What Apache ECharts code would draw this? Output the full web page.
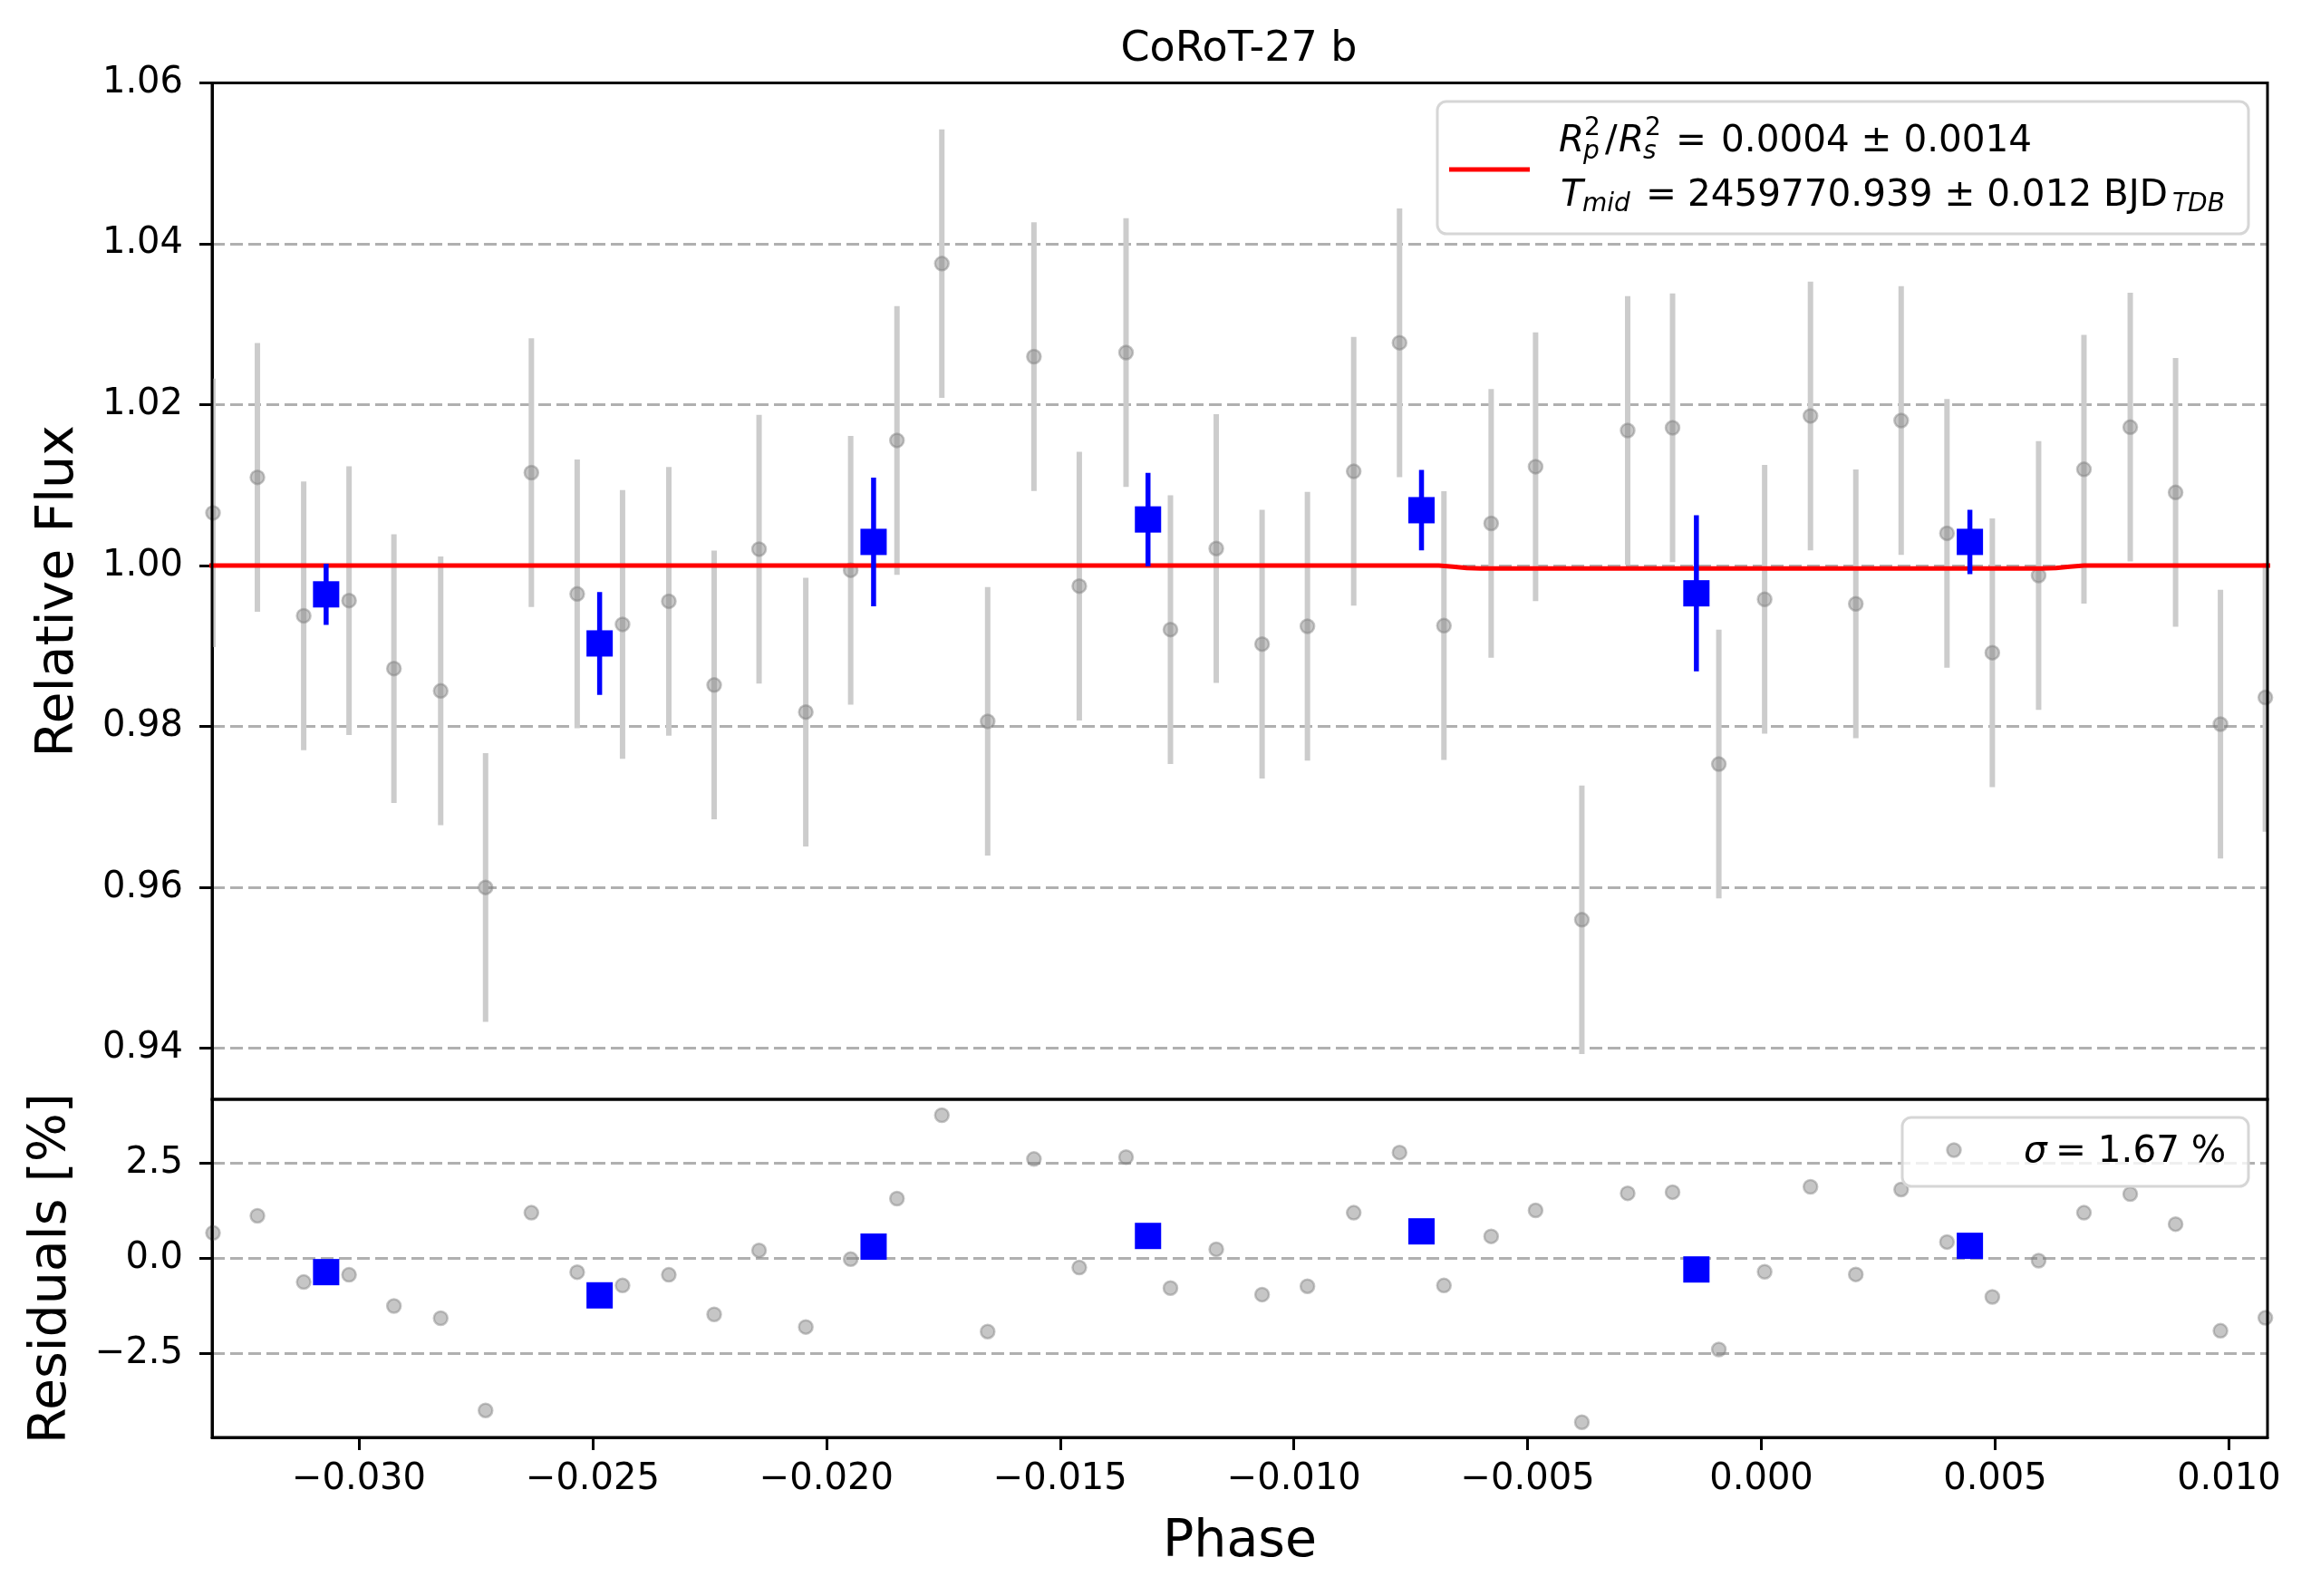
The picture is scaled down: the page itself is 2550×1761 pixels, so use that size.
<!DOCTYPE html>
<html>
<head>
<meta charset="utf-8">
<title>CoRoT-27 b</title>
<script src="https://cdn.jsdelivr.net/npm/echarts@6/dist/echarts.min.js"></script>
<style>
  html, body { margin: 0; padding: 0; background: #fff; }
  #chart { width: 2550px; height: 1761px; }
</style>
</head>
<body>
<div id="chart"></div>
<script>
// unbinned points (phase, relative flux, residual in %)
const phase = [-0.03312, -0.03217, -0.03118, -0.03021, -0.02925, -0.02825, -0.02729, -0.02631,
  -0.02533, -0.02436, -0.02337, -0.02240, -0.02144, -0.02044, -0.01948, -0.01849, -0.01753,
  -0.01655, -0.01556, -0.01459, -0.01359, -0.01264, -0.01166, -0.01068, -0.00971, -0.00872,
  -0.00774, -0.00679, -0.00578, -0.00483, -0.00384, -0.00286, -0.00190, -0.00091, 0.00007,
  0.00105, 0.00202, 0.00299, 0.00397, 0.00494, 0.00593, 0.00690, 0.00789, 0.00886, 0.00982, 0.01078];
const flux = [1.00656, 1.01098, 0.99377, 0.99566, 0.98721, 0.98443, 0.96000, 1.01156,
  0.99648, 0.99270, 0.99557, 0.98516, 1.00205, 0.98180, 0.99943, 1.01557, 1.03754,
  0.98065, 1.02598, 0.99746, 1.02648, 0.99205, 1.00213, 0.99025, 0.99246, 1.01172,
  1.02771, 0.99254, 1.00525, 1.01230, 0.95598, 1.01680, 1.01713, 0.97533, 0.99582,
  1.01861, 0.99525, 1.01803, 1.00402, 0.98918, 0.99877, 1.01197, 1.01721, 1.00910, 0.98030, 0.98361];
const fluxErr = 0.0167;
const resid = [0.67, 1.12, -0.62, -0.43, -1.25, -1.57, -3.99, 1.20,
  -0.36, -0.71, -0.43, -1.47, 0.21, -1.80, -0.02, 1.57, 3.76,
  -1.92, 2.61, -0.24, 2.66, -0.78, 0.24, -0.95, -0.73, 1.20,
  2.78, -0.71, 0.58, 1.26, -4.30, 1.71, 1.74, -2.39, -0.35,
  1.88, -0.42, 1.81, 0.43, -1.01, -0.06, 1.20, 1.69, 0.90, -1.90, -1.56];

// binned points
const binPhase = [-0.03070, -0.02485, -0.01899, -0.01312, -0.00727, -0.00139, 0.00446];
const binFlux = [0.99643, 0.99033, 1.00295, 1.00574, 1.00689, 0.99656, 1.00295];
const binErr = [0.0038, 0.0064, 0.0080, 0.0058, 0.0050, 0.0097, 0.0040];
const binResid = [-0.36, -0.97, 0.31, 0.59, 0.71, -0.29, 0.33];

// transit model
const modelPhase = [-0.0332, -0.0069, -0.0066, -0.0063, -0.0060, 0.0060, 0.0063, 0.0066, 0.0069, 0.0109];
const modelFlux = [1.0, 1.0, 0.99988, 0.99970, 0.99965, 0.99965, 0.99970, 0.99988, 1.0, 1.0];

// axes
const phaseTicks = [-0.030, -0.025, -0.020, -0.015, -0.010, -0.005, 0.000, 0.005, 0.010];
const fluxTicks = [0.94, 0.96, 0.98, 1.00, 1.02, 1.04, 1.06];
const residTicks = [-2.5, 0.0, 2.5];
const phaseMin = -0.03314, phaseMax = 0.010826;
const fluxMin = 0.93366, fluxMax = 1.06;
const residMin = -4.699, residMax = 4.176;

const FONT = 'DejaVu Sans';
const minus = (v, d) => (v < 0 ? '\u2212' : '') + Math.abs(v).toFixed(d);

const chart = echarts.init(document.getElementById('chart'), null, { renderer: 'canvas' });

function errorBars(color, width) {
  return function (params, api) {
    const hi = api.coord([api.value(0), api.value(2)]);
    const lo = api.coord([api.value(0), api.value(1)]);
    return {
      type: 'line',
      shape: { x1: hi[0], y1: hi[1], x2: lo[0], y2: lo[1] },
      style: { stroke: color, lineWidth: width }
    };
  };
}

const tickStyle = { color: '#000', width: 3 };
const gridLine = { show: true, lineStyle: { color: '#b0b0b0', width: 3, type: [14, 6] } };
const labelStyle = { fontFamily: FONT, fontSize: 40, color: '#000' };
const grayDot = { color: 'rgba(128,128,128,0.45)', borderColor: 'rgba(128,128,128,0.45)', borderWidth: 2.5, opacity: 1 };
const blueSq = { color: '#0000ff', opacity: 1 };

// legend text pieces (layout only)
function txt(x, y, s, size, italic, align) {
  return {
    type: 'text', x: x, y: y, z: 100,
    style: {
      text: s, fontFamily: FONT, fontSize: size, fontStyle: italic ? 'italic' : 'normal',
      fill: '#000', align: align || 'left', verticalAlign: 'middle'
    }
  };
}

const option = {
  backgroundColor: '#ffffff',
  animation: false,
  title: {
    text: 'CoRoT-27 b', left: 1367, top: 32, textAlign: 'center', padding: 0,
    textStyle: { fontFamily: FONT, fontSize: 46, fontWeight: 'normal', color: '#000' }
  },
  grid: [
    { left: 234, top: 91.5, width: 2268, height: 1121.5, show: true, z: 10, borderColor: '#000', borderWidth: 3 },
    { left: 234, top: 1213, width: 2268, height: 373, show: true, z: 10, borderColor: '#000', borderWidth: 3 }
  ],
  xAxis: [
    {
      gridIndex: 0, type: 'value', min: phaseMin, max: phaseMax,
      axisLine: { show: false, onZero: false }, axisTick: { show: false },
      axisLabel: { show: false }, splitLine: { show: false }
    },
    {
      gridIndex: 1, type: 'value', min: phaseMin, max: phaseMax,
      axisLine: { onZero: false, lineStyle: tickStyle },
      axisTick: { length: 14, lineStyle: tickStyle, customValues: phaseTicks },
      axisLabel: Object.assign({ customValues: phaseTicks, margin: 27, formatter: v => minus(v, 3) }, labelStyle),
      splitLine: { show: false },
      name: 'Phase', nameLocation: 'middle', nameGap: 88,
      nameTextStyle: { fontFamily: FONT, fontSize: 57, color: '#000' }
    }
  ],
  yAxis: [
    {
      gridIndex: 0, type: 'value', min: fluxMin, max: fluxMax,
      axisLine: { onZero: false, lineStyle: tickStyle },
      axisTick: { length: 14, lineStyle: tickStyle, customValues: fluxTicks },
      axisLabel: Object.assign({ customValues: fluxTicks, margin: 32, formatter: v => v.toFixed(2) }, labelStyle),
      splitLine: gridLine,
      name: 'Relative Flux', nameLocation: 'middle', nameGap: 140,
      nameTextStyle: { fontFamily: FONT, fontSize: 57, color: '#000' }
    },
    {
      gridIndex: 1, type: 'value', min: residMin, max: residMax,
      axisLine: { onZero: false, lineStyle: tickStyle },
      axisTick: { length: 14, lineStyle: tickStyle, customValues: residTicks },
      axisLabel: Object.assign({ customValues: residTicks, margin: 32, formatter: v => minus(v, 1) }, labelStyle),
      splitLine: gridLine,
      name: 'Residuals [%]', nameLocation: 'middle', nameGap: 148,
      nameTextStyle: { fontFamily: FONT, fontSize: 57, color: '#000' }
    }
  ],
  series: [
    {
      type: 'custom', xAxisIndex: 0, yAxisIndex: 0, z: 2, clip: true,
      renderItem: errorBars('#cccccc', 6),
      encode: { x: 0, y: [1, 2] },
      data: phase.map((p, i) => [p, flux[i] - fluxErr, flux[i] + fluxErr])
    },
    {
      type: 'scatter', xAxisIndex: 0, yAxisIndex: 0, z: 3,
      symbol: 'circle', symbolSize: 15, itemStyle: grayDot,
      data: phase.map((p, i) => [p, flux[i]])
    },
    {
      type: 'line', xAxisIndex: 0, yAxisIndex: 0, z: 4, showSymbol: false, symbol: 'none',
      lineStyle: { color: '#ff0000', width: 5 },
      data: modelPhase.map((p, i) => [p, modelFlux[i]])
    },
    {
      type: 'custom', xAxisIndex: 0, yAxisIndex: 0, z: 5, clip: true,
      renderItem: errorBars('#0000ff', 5.5),
      encode: { x: 0, y: [1, 2] },
      data: binPhase.map((p, i) => [p, binFlux[i] - binErr[i], binFlux[i] + binErr[i]])
    },
    {
      type: 'scatter', xAxisIndex: 0, yAxisIndex: 0, z: 6,
      symbol: 'rect', symbolSize: 29, itemStyle: blueSq,
      data: binPhase.map((p, i) => [p, binFlux[i]])
    },
    {
      type: 'scatter', xAxisIndex: 1, yAxisIndex: 1, z: 3,
      symbol: 'circle', symbolSize: 15, itemStyle: grayDot,
      data: phase.map((p, i) => [p, resid[i]])
    },
    {
      type: 'scatter', xAxisIndex: 1, yAxisIndex: 1, z: 6,
      symbol: 'rect', symbolSize: 29, itemStyle: blueSq,
      data: binPhase.map((p, i) => [p, binResid[i]])
    }
  ],
  graphic: [
    // model legend
    {
      type: 'rect', z: 99, shape: { x: 1586, y: 112, width: 895, height: 146, r: 10 },
      style: { fill: 'rgba(255,255,255,0.8)', stroke: '#d6d6d6', lineWidth: 3 }
    },
    {
      type: 'line', z: 100, shape: { x1: 1599, y1: 187, x2: 1688, y2: 187 },
      style: { stroke: '#ff0000', lineWidth: 5 }
    },
    txt(1720, 156, 'R', 40.5, true),
    txt(1748, 142, '2', 28, false),
    txt(1747, 168, 'p', 28, true),
    txt(1771, 156, '/', 40.5, false),
    txt(1786, 156, 'R', 40.5, true),
    txt(1815, 142, '2', 28, false),
    txt(1813, 168, 's', 28, true),
    txt(1849, 156, '=', 40.5, false),
    txt(1899, 156, '0.0004 \u00b1 0.0014', 40.5, false),
    txt(1722, 216, 'T', 40.5, true),
    txt(1746, 226, 'mid', 28, true),
    txt(1816, 216, '=', 40.5, false),
    txt(1862, 216, '2459770.939 \u00b1 0.012 BJD', 40.5, false),
    txt(2397, 226, 'TDB', 28, true),
    // residual legend
    {
      type: 'rect', z: 99, shape: { x: 2099, y: 1233, width: 382, height: 76, r: 10 },
      style: { fill: 'rgba(255,255,255,0.8)', stroke: '#d6d6d6', lineWidth: 3 }
    },
    {
      type: 'circle', z: 100, shape: { cx: 2156, cy: 1269, r: 7.5 },
      style: { fill: 'rgba(128,128,128,0.45)', stroke: 'rgba(128,128,128,0.45)', lineWidth: 2.5 }
    },
    txt(2233, 1271, '\u03c3', 40.5, true),
    txt(2268, 1271, '= 1.67 %', 40.5, false)
  ]
};

chart.setOption(option);
</script>
</body>
</html>
